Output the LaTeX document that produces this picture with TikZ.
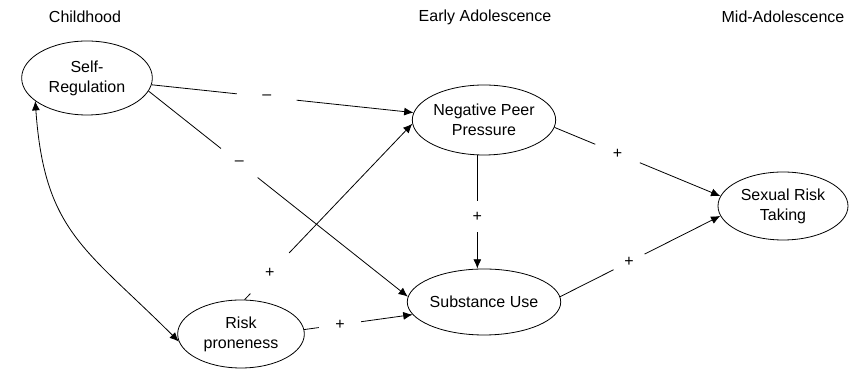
\documentclass[tikz,border=0pt]{standalone}
\usepackage{fontspec}
\setmainfont{Liberation Sans}
\usetikzlibrary{shapes.geometric,arrows.meta}

\begin{document}
\begin{tikzpicture}[x=0.75pt,y=0.75pt,
  font=\fontsize{12}{15}\selectfont,
  var/.style={ellipse, draw, line width=0.6pt, align=center, inner sep=0pt},
  arr/.style={-{Latex[length=7pt,width=6pt]}, line width=0.6pt},
  dblarr/.style={{Latex[length=7pt,width=6pt]}-{Latex[length=7pt,width=6pt]}, line width=0.6pt},
  lbl/.style={circle, fill=white, inner sep=0pt, minimum size=#1},
  lbl/.default=32pt]
\useasboundingbox (0,0) rectangle (858,370);
% period headings
\node (hchild) at (85,353) {Childhood};
\node (hearly) at (485,353) {Early Adolescence};
\node (hmid) at (783,353) {Mid-Adolescence};
% constructs
\node[var, minimum width=98pt, minimum height=55.5pt] (sr) at (87,292) {Self-\\Regulation};
\node[var, minimum width=95pt, minimum height=51pt] (rp) at (241,36) {Risk\\proneness};
\node[var, minimum width=96pt, minimum height=52.5pt] (npp) at (484,250) {Negative Peer\\Pressure};
\node[var, minimum width=96pt, minimum height=49.5pt] (su) at (484,68) {Substance Use};
\node[var, minimum width=97.5pt, minimum height=51pt] (srt) at (783,164) {Sexual Risk\\Taking};
% paths
\draw[arr] (sr.-6) -- node[lbl=45pt, pos=.44] {–} (npp.174);
\draw[arr] (sr.-12) -- node[lbl=35pt, pos=.35] {–} (su.176);
\draw[arr] (rp.84) -- node[lbl=42pt, pos=.15] {+} (npp.183);
\draw[arr] (rp.4) -- node[lbl=32pt, pos=.33] {+} (su.190);
\draw[arr] ([xshift=-5pt]npp.south) -- node[lbl=23pt, pos=.54] {+} ([xshift=-5pt]su.north);
\draw[arr] (npp.-6) -- node[lbl=36pt, pos=.38] {+} (srt.171);
\draw[arr] (su.4) -- node[lbl=26pt, pos=.43] {+} (srt.189);
% covariance
\draw[dblarr] (sr.204) to[out=-86, in=135, looseness=1.2] (rp.187);

\end{tikzpicture}
\end{document}
